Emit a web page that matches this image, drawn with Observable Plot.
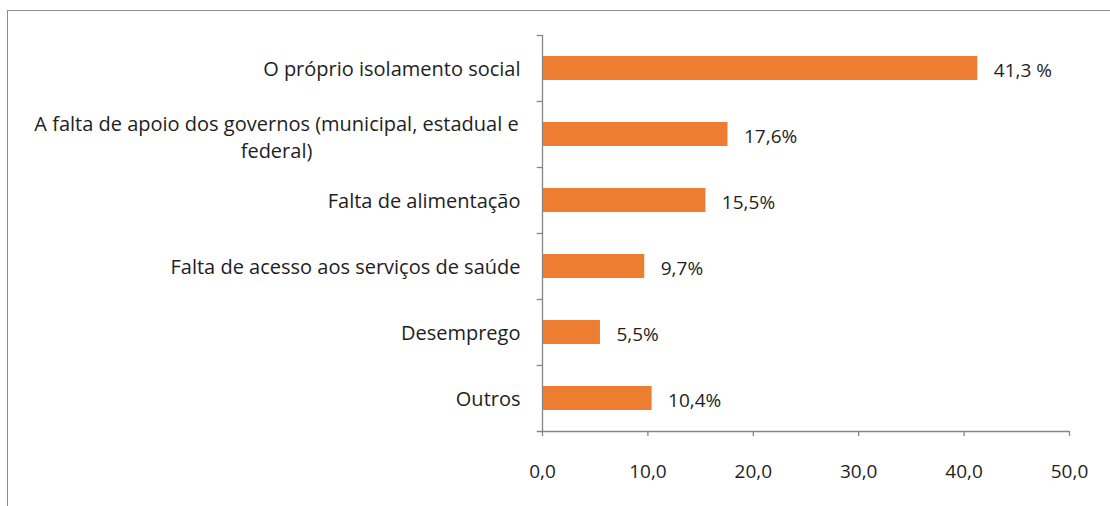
<!DOCTYPE html>
<html>
<head>
<meta charset="utf-8">
<script src="https://cdn.jsdelivr.net/npm/d3@7"></script>
<script src="https://cdn.jsdelivr.net/npm/@observablehq/plot@0.6"></script>
<style>
  body { margin: 0; background: #fff; }
  #wrap { position: relative; width: 1110px; height: 506px; overflow: hidden; }
  #border { position: absolute; left: 7px; top: 10px; width: 1200px; height: 600px;
            border-left: 1px solid #8c8c8c; border-top: 1px solid #8c8c8c; pointer-events: none; }
</style>
</head>
<body>
<div id="wrap"><div id="border"></div><div id="chart"></div></div>
<script>
const categories = [
  "O próprio isolamento social",
  "A falta de apoio dos governos (municipal, estadual e\nfederal)",
  "Falta de alimentação",
  "Falta de acesso aos serviços de saúde",
  "Desemprego",
  "Outros"
];
const values = [41.3, 17.6, 15.5, 9.7, 5.5, 10.4];
const valueLabels = ["41,3 %", "17,6%", "15,5%", "9,7%", "5,5%", "10,4%"];
const xTicks = [0, 10, 20, 30, 40, 50];

const data = categories.map((c, i) => ({cat: c, value: values[i], label: valueLabels[i], wrapped: c.includes("\n")}));
const fmt = d => d.toFixed(1).replace(".", ",");
const FONT = "'Open Sans', sans-serif";
const INK = "#1e1e1e";
const GRID = "#868686";

const plot = Plot.plot({
  width: 1110,
  height: 506,
  marginLeft: 542,
  marginRight: 41,
  marginTop: 35,
  marginBottom: 75,
  style: {fontFamily: FONT, fontSize: "19px", color: INK, background: "transparent"},
  x: {domain: [0, 50], axis: null},
  y: {domain: categories, paddingInner: 0.64, paddingOuter: 0.32, align: 0.5, axis: null},
  marks: [
    Plot.barX(data, {x: "value", y: "cat", fill: "#ED7D31"}),
    Plot.text(data, {x: "value", y: "cat", text: "label", textAnchor: "start", dx: 16, dy: 2, fill: INK, fontSize: 19}),
    Plot.text(data.filter(d => !d.wrapped), {x: 0, y: "cat", text: "cat", textAnchor: "end", dx: -22, dy: 1, fill: INK, fontSize: 20}),
    Plot.text(data.filter(d => d.wrapped), {x: 0, y: "cat", text: "cat", textAnchor: "middle", dx: -266, dy: 1, lineHeight: 1.35, fill: INK, fontSize: 20}),
    // axis lines
    Plot.ruleX([0], {stroke: GRID, strokeWidth: 1.3}),
    Plot.ruleY([categories[categories.length - 1]], {x1: -0.5, x2: 50, dy: 33, stroke: GRID, strokeWidth: 1.3}),
    // band boundary ticks on y axis
    Plot.ruleY(categories, {x1: -0.5, x2: 0, dy: -33, stroke: GRID, strokeWidth: 1.3}),
    // x axis ticks and labels
    Plot.axisX(xTicks, {anchor: "bottom", label: null, tickSize: 5, tickPadding: 28, tickFormat: fmt, stroke: GRID, fill: INK, fontSize: 19, strokeWidth: 1.3})
  ]
});
document.getElementById("chart").appendChild(plot);
</script>
</body>
</html>
